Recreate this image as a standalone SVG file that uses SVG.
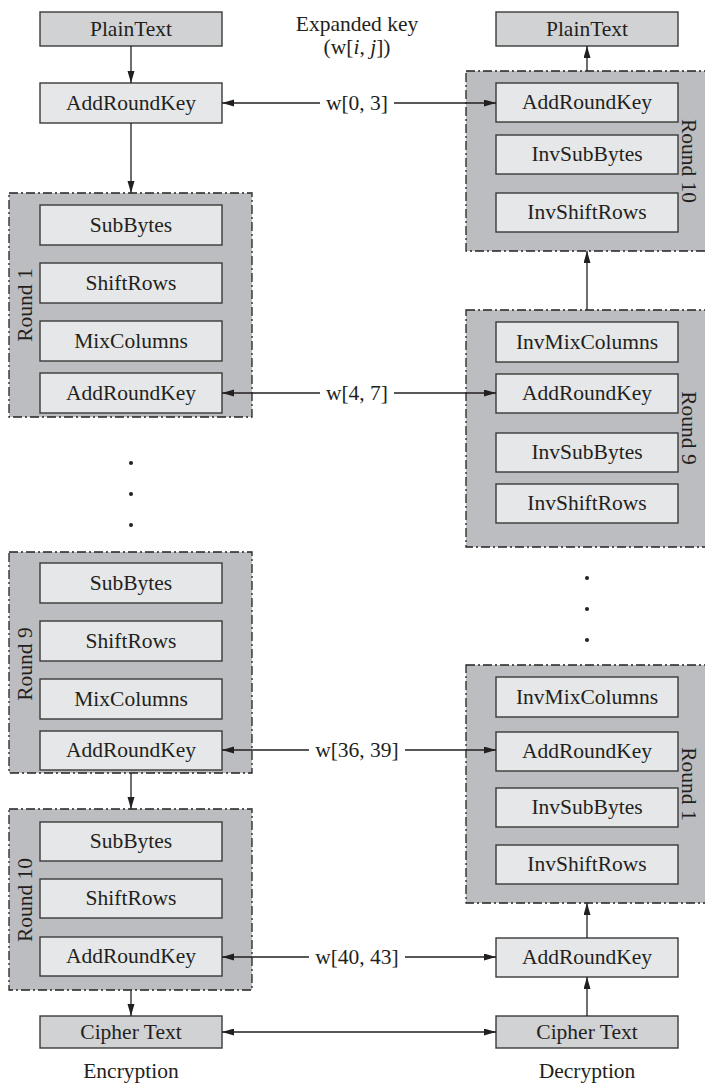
<svg xmlns="http://www.w3.org/2000/svg" width="705" height="1085" viewBox="0 0 705 1085">
  <style>
    text { font-family: "Liberation Serif", "DejaVu Serif", serif; font-size: 21.5px; fill: #231f20; }
    .c { text-anchor: middle; }
    .round { fill: #bcbdc0; stroke: #222222; stroke-width: 1.3; stroke-dasharray: 9 3 2 3; }
    .step { fill: #e6e7e8; stroke: #3a3a3a; stroke-width: 1.4; }
    .io { fill: #d1d2d4; stroke: #3a3a3a; stroke-width: 1.4; }
    .wire { fill: none; stroke: #231f20; stroke-width: 1.3; }
    .dot { fill: #231f20; }
  </style>
  <defs>
    <marker id="head" markerUnits="userSpaceOnUse" markerWidth="13" markerHeight="8" refX="12" refY="3.5" orient="auto">
      <path d="M0,0 L12,3.5 L0,7 z" fill="#231f20"/>
    </marker>
    <marker id="tail" markerUnits="userSpaceOnUse" markerWidth="13" markerHeight="8" refX="0" refY="3.5" orient="auto">
      <path d="M12,0 L0,3.5 L12,7 z" fill="#231f20"/>
    </marker>
  </defs>

  <!-- Encryption side -->
  <g id="enc-plaintext">
    <rect class="io" x="40" y="12" width="182" height="34"/>
    <text class="c" x="131" y="36">PlainText</text>
  </g>
  <g id="enc-addroundkey0">
    <rect class="step" x="40" y="83" width="182" height="40"/>
    <text class="c" x="131" y="110">AddRoundKey</text>
  </g>
  <g id="enc-round1">
    <rect class="round" x="9" y="193" width="243" height="224"/>
    <text class="c" transform="translate(32,305) rotate(-90)">Round 1</text>
    <rect class="step" x="40" y="205" width="182" height="40"/>
    <text class="c" x="131" y="232">SubBytes</text>
    <rect class="step" x="40" y="263" width="182" height="40"/>
    <text class="c" x="131" y="290">ShiftRows</text>
    <rect class="step" x="40" y="321" width="182" height="40"/>
    <text class="c" x="131" y="348">MixColumns</text>
    <rect class="step" x="40" y="373" width="182" height="40"/>
    <text class="c" x="131" y="400">AddRoundKey</text>
  </g>
  <g id="enc-ellipsis">
    <circle class="dot" cx="131" cy="463" r="2"/>
    <circle class="dot" cx="131" cy="494" r="2"/>
    <circle class="dot" cx="131" cy="525" r="2"/>
  </g>
  <g id="enc-round9">
    <rect class="round" x="9" y="552" width="243" height="221"/>
    <text class="c" transform="translate(32,664) rotate(-90)">Round 9</text>
    <rect class="step" x="40" y="563" width="182" height="40"/>
    <text class="c" x="131" y="590">SubBytes</text>
    <rect class="step" x="40" y="621" width="182" height="40"/>
    <text class="c" x="131" y="648">ShiftRows</text>
    <rect class="step" x="40" y="679" width="182" height="40"/>
    <text class="c" x="131" y="706">MixColumns</text>
    <rect class="step" x="40" y="731" width="182" height="39"/>
    <text class="c" x="131" y="757">AddRoundKey</text>
  </g>
  <g id="enc-round10">
    <rect class="round" x="9" y="809" width="243" height="181"/>
    <text class="c" transform="translate(32,900) rotate(-90)">Round 10</text>
    <rect class="step" x="40" y="822" width="182" height="39"/>
    <text class="c" x="131" y="848">SubBytes</text>
    <rect class="step" x="40" y="879" width="182" height="39"/>
    <text class="c" x="131" y="905">ShiftRows</text>
    <rect class="step" x="40" y="937" width="182" height="39"/>
    <text class="c" x="131" y="963">AddRoundKey</text>
  </g>
  <g id="enc-ciphertext">
    <rect class="io" x="40" y="1016" width="182" height="32"/>
    <text class="c" x="131" y="1039">Cipher Text</text>
  </g>
  <text id="enc-caption" class="c" x="131" y="1078">Encryption</text>

  <!-- Key schedule label -->
  <g id="key-label">
    <text class="c" x="357" y="31">Expanded key</text>
    <text class="c" x="357" y="54">(w[<tspan font-style="italic">i</tspan>, <tspan font-style="italic">j</tspan>])</text>
  </g>

  <!-- Decryption side -->
  <g id="dec-plaintext">
    <rect class="io" x="496" y="12" width="182" height="34"/>
    <text class="c" x="587" y="36">PlainText</text>
  </g>
  <g id="dec-round10">
    <rect class="round" x="466" y="71" width="242" height="180"/>
    <text class="c" transform="translate(682,161) rotate(90)">Round 10</text>
    <rect class="step" x="496" y="83" width="182" height="39"/>
    <text class="c" x="587" y="109">AddRoundKey</text>
    <rect class="step" x="496" y="135" width="182" height="39"/>
    <text class="c" x="587" y="161">InvSubBytes</text>
    <rect class="step" x="496" y="193" width="182" height="39"/>
    <text class="c" x="587" y="219">InvShiftRows</text>
  </g>
  <g id="dec-round9">
    <rect class="round" x="466" y="310" width="242" height="237"/>
    <text class="c" transform="translate(682,428) rotate(90)">Round 9</text>
    <rect class="step" x="496" y="322" width="182" height="40"/>
    <text class="c" x="587" y="349">InvMixColumns</text>
    <rect class="step" x="496" y="374" width="182" height="39"/>
    <text class="c" x="587" y="400">AddRoundKey</text>
    <rect class="step" x="496" y="433" width="182" height="39"/>
    <text class="c" x="587" y="459">InvSubBytes</text>
    <rect class="step" x="496" y="484" width="182" height="39"/>
    <text class="c" x="587" y="510">InvShiftRows</text>
  </g>
  <g id="dec-ellipsis">
    <circle class="dot" cx="587" cy="578" r="2"/>
    <circle class="dot" cx="587" cy="609" r="2"/>
    <circle class="dot" cx="587" cy="640" r="2"/>
  </g>
  <g id="dec-round1">
    <rect class="round" x="466" y="665" width="242" height="238"/>
    <text class="c" transform="translate(682,784) rotate(90)">Round 1</text>
    <rect class="step" x="496" y="677" width="182" height="40"/>
    <text class="c" x="587" y="704">InvMixColumns</text>
    <rect class="step" x="496" y="732" width="182" height="39"/>
    <text class="c" x="587" y="758">AddRoundKey</text>
    <rect class="step" x="496" y="788" width="182" height="39"/>
    <text class="c" x="587" y="814">InvSubBytes</text>
    <rect class="step" x="496" y="845" width="182" height="39"/>
    <text class="c" x="587" y="871">InvShiftRows</text>
  </g>
  <g id="dec-addroundkey0">
    <rect class="step" x="496" y="938" width="182" height="39"/>
    <text class="c" x="587" y="964">AddRoundKey</text>
  </g>
  <g id="dec-ciphertext">
    <rect class="io" x="496" y="1016" width="182" height="32"/>
    <text class="c" x="587" y="1039">Cipher Text</text>
  </g>
  <text id="dec-caption" class="c" x="587" y="1078">Decryption</text>

  <!-- Round key labels -->
  <g id="key-words">
    <text class="c" x="357" y="110">w[0, 3]</text>
    <text class="c" x="357" y="400">w[4, 7]</text>
    <text class="c" x="357" y="757">w[36, 39]</text>
    <text class="c" x="357" y="964">w[40, 43]</text>
  </g>

  <!-- Connectors -->
  <g id="connectors">
    <line class="wire" x1="131" y1="46" x2="131" y2="83" marker-end="url(#head)"/>
    <line class="wire" x1="131" y1="123" x2="131" y2="193" marker-end="url(#head)"/>
    <line class="wire" x1="131" y1="773" x2="131" y2="809" marker-end="url(#head)"/>
    <line class="wire" x1="131" y1="990" x2="131" y2="1016" marker-end="url(#head)"/>

    <line class="wire" x1="587" y1="71" x2="587" y2="46" marker-end="url(#head)"/>
    <line class="wire" x1="587" y1="310" x2="587" y2="251" marker-end="url(#head)"/>
    <line class="wire" x1="587" y1="938" x2="587" y2="903" marker-end="url(#head)"/>
    <line class="wire" x1="587" y1="1016" x2="587" y2="977" marker-end="url(#head)"/>

    <line class="wire" x1="222" y1="1032" x2="496" y2="1032" marker-start="url(#tail)" marker-end="url(#head)"/>

    <line class="wire" x1="320" y1="103" x2="222" y2="103" marker-end="url(#head)"/>
    <line class="wire" x1="394" y1="103" x2="496" y2="103" marker-end="url(#head)"/>
    <line class="wire" x1="320" y1="393" x2="222" y2="393" marker-end="url(#head)"/>
    <line class="wire" x1="394" y1="393" x2="496" y2="393" marker-end="url(#head)"/>
    <line class="wire" x1="309" y1="750" x2="222" y2="750" marker-end="url(#head)"/>
    <line class="wire" x1="405" y1="750" x2="496" y2="750" marker-end="url(#head)"/>
    <line class="wire" x1="309" y1="957" x2="222" y2="957" marker-end="url(#head)"/>
    <line class="wire" x1="405" y1="957" x2="496" y2="957" marker-end="url(#head)"/>
  </g>
</svg>
